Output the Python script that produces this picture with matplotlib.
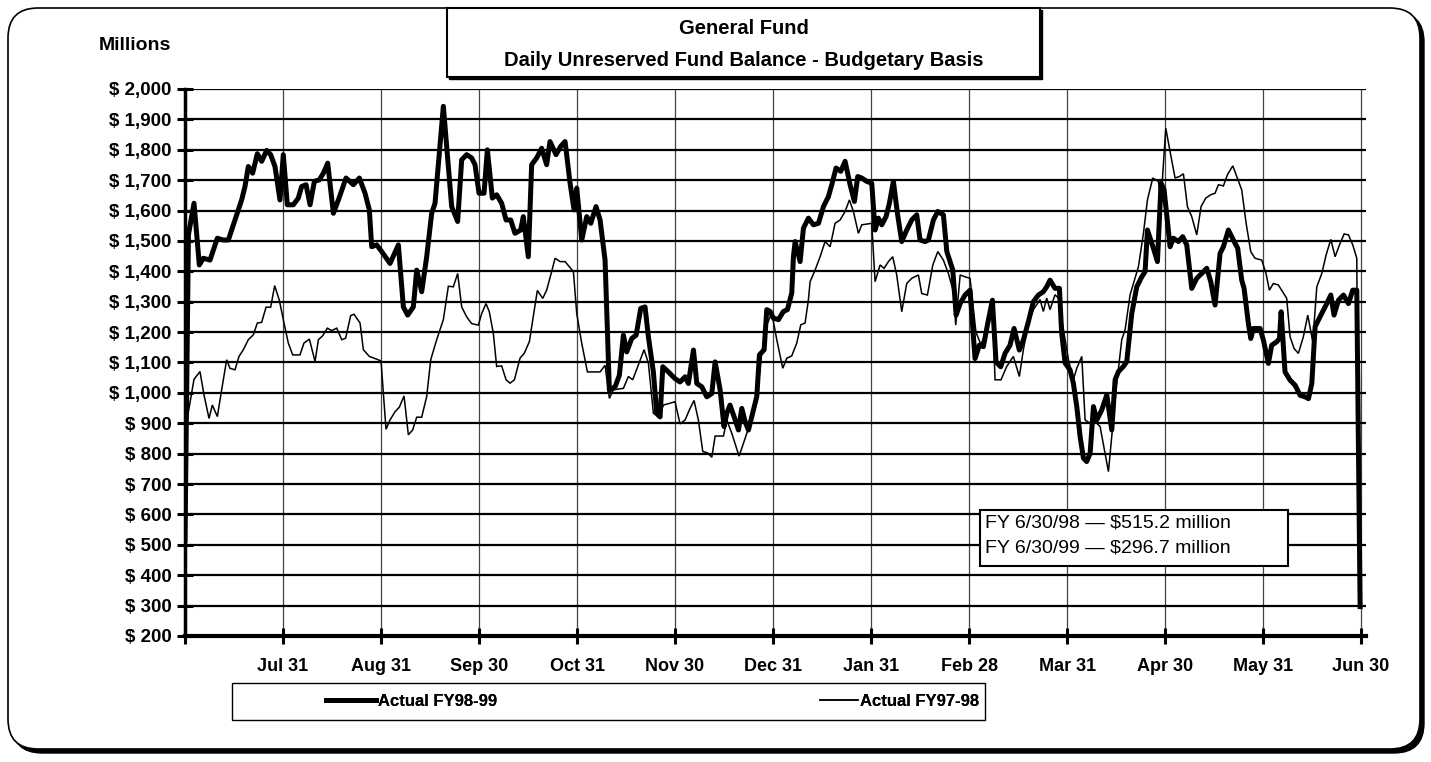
import matplotlib
matplotlib.use('Agg')
import matplotlib.pyplot as plt
from matplotlib.patches import Rectangle, FancyBboxPatch
from matplotlib.lines import Line2D

plt.rcParams['font.family'] = ['Liberation Sans', 'DejaVu Sans']

# t = months since Jul 1 (1 = Jul 31, 2 = Aug 31, ... 12 = Jun 30), balance in $ millions
fy9899_t = [0.0, 0.035, 0.092, 0.146, 0.187, 0.255, 0.33, 0.39, 0.442, 0.51, 0.578, 0.612, 0.646, 0.69,
            0.738, 0.782, 0.833, 0.874, 0.918, 0.969, 1.003, 1.044, 1.105, 1.156, 1.19, 1.235, 1.276,
            1.32, 1.37, 1.412, 1.456, 1.514, 1.565, 1.643, 1.718, 1.779, 1.837, 1.881, 1.905, 1.956,
            2.007, 2.092, 2.177, 2.228, 2.272, 2.33, 2.364, 2.415, 2.466, 2.517, 2.551, 2.636, 2.721,
            2.782, 2.823, 2.874, 2.925, 2.959, 3.0, 3.051, 3.085, 3.136, 3.18, 3.231, 3.276, 3.323,
            3.367, 3.425, 3.452, 3.503, 3.537, 3.588, 3.639, 3.69, 3.724, 3.786, 3.833, 3.878, 3.929,
            3.97, 3.997, 4.048, 4.099, 4.14, 4.194, 4.235, 4.286, 4.33, 4.388, 4.432, 4.473, 4.507,
            4.558, 4.603, 4.65, 4.694, 4.728, 4.779, 4.813, 4.847, 4.875, 4.932, 5.0, 5.051, 5.103,
            5.136, 5.188, 5.222, 5.273, 5.324, 5.375, 5.409, 5.46, 5.5, 5.528, 5.561, 5.602, 5.647,
            5.681, 5.715, 5.749, 5.783, 5.834, 5.861, 5.909, 5.936, 5.97, 6.004, 6.055, 6.106, 6.147,
            6.191, 6.208, 6.225, 6.276, 6.31, 6.361, 6.412, 6.463, 6.514, 6.565, 6.599, 6.643, 6.691,
            6.735, 6.786, 6.83, 6.864, 6.905, 6.956, 7.007, 7.041, 7.075, 7.109, 7.153, 7.187, 7.228,
            7.269, 7.313, 7.364, 7.415, 7.466, 7.5, 7.551, 7.585, 7.636, 7.681, 7.738, 7.773, 7.834,
            7.868, 7.909, 7.959, 8.01, 8.061, 8.105, 8.146, 8.19, 8.238, 8.275, 8.323, 8.367, 8.418,
            8.459, 8.513, 8.554, 8.605, 8.656, 8.707, 8.758, 8.792, 8.826, 8.877, 8.922, 8.945, 8.98,
            9.03, 9.064, 9.099, 9.133, 9.167, 9.2, 9.235, 9.269, 9.303, 9.354, 9.405, 9.456, 9.49,
            9.524, 9.575, 9.609, 9.66, 9.711, 9.762, 9.796, 9.82, 9.881, 9.922, 9.959, 9.99, 10.051,
            10.085, 10.136, 10.18, 10.221, 10.272, 10.323, 10.374, 10.425, 10.466, 10.51, 10.561,
            10.595, 10.646, 10.697, 10.741, 10.782, 10.806, 10.85, 10.874, 10.901, 10.969, 11.003,
            11.054, 11.088, 11.139, 11.167, 11.184, 11.224, 11.275, 11.327, 11.378, 11.429, 11.463,
            11.497, 11.531, 11.582, 11.65, 11.691, 11.724, 11.769, 11.82, 11.871, 11.915, 11.956, 11.99]
fy9899_bal = [515.2, 1520, 1624, 1421, 1443, 1437, 1509, 1503, 1503, 1569, 1635, 1679, 1745, 1723,
              1787, 1762, 1798, 1784, 1745, 1635, 1784, 1619, 1619, 1641, 1679, 1685, 1619,
              1696, 1701, 1723, 1756, 1591, 1635, 1707, 1685, 1707, 1657, 1602, 1481, 1487,
              1465, 1426, 1487, 1283, 1256, 1283, 1404, 1333, 1448, 1591, 1624, 1943, 1613,
              1564, 1767, 1784, 1773, 1751, 1657, 1657, 1800, 1641, 1652, 1624, 1569, 1569,
              1525, 1536, 1580, 1448, 1751, 1773, 1805, 1751, 1827, 1784, 1811, 1827, 1690,
              1602, 1674, 1503, 1580, 1558, 1613, 1569, 1437, 1009, 1020, 1058, 1190, 1135,
              1179, 1190, 1278, 1283, 1185, 1069, 932, 921, 1086, 1069, 1047, 1036, 1053,
              1031, 1141, 1031, 1020, 987, 998, 1102, 1010, 889, 933, 960, 922, 878,
              949, 905, 878, 922, 988, 1125, 1142, 1274, 1268, 1246, 1241, 1268, 1274,
              1329, 1448, 1498, 1432, 1542, 1575, 1553, 1558, 1613, 1646, 1685, 1740, 1729,
              1762, 1685, 1630, 1712, 1707, 1696, 1690, 1536, 1575, 1553, 1580, 1624, 1696,
              1591, 1498, 1536, 1569, 1586, 1503, 1498, 1503, 1569, 1597, 1586, 1465, 1404,
              1256, 1294, 1322, 1338, 1113, 1157, 1152, 1228, 1305, 1102, 1086, 1130, 1157,
              1212, 1141, 1174, 1234, 1300, 1322, 1333, 1349, 1371, 1344, 1344, 1196, 1098,
              1076, 1032, 955, 856, 785, 774, 801, 955, 911, 944, 993, 878, 1043,
              1070, 1087, 1103, 1261, 1349, 1382, 1399, 1536, 1476, 1432, 1690, 1668, 1481,
              1509, 1498, 1514, 1487, 1344, 1377, 1393, 1410, 1366, 1289, 1459,
              1481, 1536, 1503, 1476, 1371, 1344, 1228, 1179, 1212, 1212, 1174,
              1097, 1157, 1168, 1179, 1267, 1069, 1042, 1025, 992, 987, 981,
              1031, 1218, 1251, 1294, 1322, 1256, 1305, 1322, 1294, 1338, 1338, 296.7]

fy9798_t = [0.02, 0.092, 0.153, 0.194, 0.245, 0.279, 0.33, 0.374, 0.425, 0.459, 0.51, 0.551, 0.595,
            0.646, 0.697, 0.738, 0.782, 0.827, 0.874, 0.915, 0.963, 1.01, 1.054, 1.099, 1.173, 1.214,
            1.269, 1.327, 1.361, 1.405, 1.452, 1.497, 1.548, 1.599, 1.639, 1.69, 1.724, 1.786, 1.82,
            1.881, 1.956, 2.0, 2.051, 2.092, 2.143, 2.187, 2.235, 2.279, 2.323, 2.364, 2.415, 2.466,
            2.507, 2.568, 2.636, 2.687, 2.738, 2.782, 2.823, 2.874, 2.925, 2.993, 3.027, 3.071, 3.105,
            3.146, 3.18, 3.231, 3.276, 3.316, 3.361, 3.418, 3.463, 3.514, 3.554, 3.595, 3.65, 3.69,
            3.741, 3.776, 3.827, 3.878, 3.963, 3.997, 4.048, 4.106, 4.235, 4.286, 4.33, 4.371, 4.473,
            4.524, 4.568, 4.626, 4.684, 4.728, 4.779, 4.84, 4.881, 4.949, 5.0, 5.051, 5.103, 5.153,
            5.194, 5.238, 5.283, 5.33, 5.375, 5.409, 5.494, 5.528, 5.579, 5.653, 5.698, 5.766, 5.834,
            5.885, 5.936, 5.987, 6.038, 6.099, 6.14, 6.191, 6.242, 6.283, 6.327, 6.361, 6.378, 6.429,
            6.48, 6.531, 6.582, 6.633, 6.684, 6.735, 6.779, 6.82, 6.871, 6.905, 7.007, 7.041, 7.092,
            7.133, 7.177, 7.221, 7.262, 7.313, 7.364, 7.415, 7.483, 7.517, 7.575, 7.63, 7.681, 7.738,
            7.789, 7.84, 7.864, 7.909, 7.959, 8.01, 8.07, 8.12, 8.18, 8.24, 8.265, 8.326, 8.384, 8.452,
            8.513, 8.554, 8.605, 8.656, 8.724, 8.758, 8.792, 8.826, 8.877, 8.911, 8.963, 9.014, 9.064,
            9.099, 9.15, 9.184, 9.235, 9.286, 9.337, 9.422, 9.456, 9.507, 9.558, 9.592, 9.643, 9.728,
            9.779, 9.82, 9.874, 9.932, 9.959, 10.007, 10.051, 10.102, 10.146, 10.187, 10.228, 10.272,
            10.323, 10.367, 10.415, 10.466, 10.51, 10.544, 10.595, 10.636, 10.691, 10.731, 10.782,
            10.827, 10.874, 10.918, 10.986, 11.03, 11.064, 11.105, 11.156, 11.241, 11.275, 11.316,
            11.36, 11.411, 11.456, 11.507, 11.548, 11.599, 11.643, 11.691, 11.735, 11.779, 11.827,
            11.871, 11.915, 11.956, 11.975]
fy9798_bal = [910, 1045, 1070, 993, 916, 960, 922, 1010, 1109, 1081, 1076, 1120, 1142,
              1175, 1191, 1230, 1232, 1282, 1282, 1353, 1304, 1230, 1164, 1125, 1125, 1164,
              1177, 1103, 1175, 1188, 1213, 1205, 1213, 1175, 1180, 1254, 1259, 1230, 1142,
              1120, 1111, 1105, 880, 911, 938, 953, 990, 862, 878, 920, 920, 988,
              1109, 1175, 1241, 1351, 1349, 1393, 1283, 1250, 1228, 1223, 1261, 1294, 1267,
              1196, 1087, 1089, 1043, 1032, 1043, 1114, 1131, 1169, 1252, 1337, 1311, 1338,
              1399, 1443, 1432, 1432, 1399, 1261, 1163, 1069, 1069, 1091, 982, 1010, 1015,
              1054, 1043, 1092, 1142, 1098, 933, 922, 960, 966, 971, 898, 911, 949,
              975, 911, 807, 803, 788, 858, 858, 911, 867, 792, 834, 900, 982,
              1131, 1224, 1263, 1175, 1081, 1114, 1122, 1164, 1224, 1230, 1307, 1366, 1404,
              1448, 1498, 1481, 1558, 1569, 1597, 1635, 1597, 1525, 1553, 1558, 1366, 1421,
              1410, 1432, 1448, 1388, 1267, 1360, 1377, 1388, 1327, 1322, 1421, 1465, 1437,
              1393, 1333, 1223, 1388, 1382, 1377, 1200, 1160, 1200, 1280, 1043, 1043, 1087, 1120,
              1054, 1142, 1230, 1274, 1307, 1268, 1312, 1274, 1323, 1312, 1208, 1109, 1043,
              1081, 1120, 911, 900, 906, 889, 741, 856, 1032, 1175, 1208, 1323, 1415,
              1525, 1635, 1707, 1696, 1635, 1871, 1794, 1707, 1712, 1721, 1613, 1580,
              1520, 1613, 1641, 1652, 1657, 1685, 1681, 1718, 1747, 1712, 1668,
              1558, 1465, 1443, 1437, 1393, 1338, 1360, 1355, 1311, 1185, 1146,
              1130, 1185, 1256, 1168, 1349, 1393, 1454, 1505, 1448, 1487, 1523,
              1520, 1487, 1443, 515.2]

month_labels = ['', 'Jul 31', 'Aug 31', 'Sep 30', 'Oct 31', 'Nov 30', 'Dec 31',
                'Jan 31', 'Feb 28', 'Mar 31', 'Apr 30', 'May 31', 'Jun 30']
y_ticks = list(range(200, 2001, 100))
title_lines = ['General Fund', 'Daily Unreserved Fund Balance - Budgetary Basis']
series_labels = ['Actual FY98-99', 'Actual FY97-98']
note_lines = ['FY 6/30/98 \u2014 $515.2 million', 'FY 6/30/99 \u2014 $296.7 million']

W, H = 1431, 762
fig = plt.figure(figsize=(W / 100, H / 100), dpi=100)

# background layer in pixel coords (rounded frame with shadow)
bg = fig.add_axes([0, 0, 1, 1], zorder=0)
bg.set_xlim(0, W)
bg.set_ylim(H, 0)
bg.axis('off')
bg.add_patch(FancyBboxPatch((12, 12), 1412, 741, boxstyle='round,pad=0,rounding_size=30',
                            fc='black', ec='black', lw=1))
bg.add_patch(FancyBboxPatch((8, 8), 1412, 741, boxstyle='round,pad=0,rounding_size=30',
                            fc='white', ec='black', lw=1.2))

# main chart
ax = fig.add_axes([185 / W, 1 - 636 / H, (1366 - 185) / W, (636 - 89) / H], zorder=1)
ax.plot(fy9798_t, fy9798_bal, color='black', lw=1.1, zorder=3, solid_joinstyle='miter')
ax.plot(fy9899_t, fy9899_bal, color='black', lw=3.6, zorder=4)
ax.set_xlim(0, 12.05)
ax.set_ylim(200, 2000)
ax.set_xticks(range(13))
ax.set_xticklabels(month_labels, fontsize=13, fontweight='bold')
ax.set_yticks(y_ticks)
ax.set_yticklabels(['$ {:,}'.format(v) for v in y_ticks], fontsize=13.5, fontweight='bold')
ax.grid(axis='y', color='black', lw=1.6, zorder=1)
ax.grid(axis='x', color='#444444', lw=0.9, zorder=1)
ax.set_axisbelow(True)
for s in ['top', 'right']:
    ax.spines[s].set_visible(False)
ax.spines['left'].set_linewidth(2.5)
ax.spines['bottom'].set_linewidth(3)
ax.tick_params(axis='both', direction='inout', length=11, width=2.2, color='black')
ax.tick_params(axis='y', pad=4)
ax.tick_params(axis='x', pad=10)

# foreground layer in pixel coords (title box, legend, note)
fg = fig.add_axes([0, 0, 1, 1], zorder=2)
fg.set_xlim(0, W)
fg.set_ylim(H, 0)
fg.axis('off')
fg.patch.set_alpha(0)

fg.add_patch(Rectangle((449, 10), 593, 69, fc='black', ec='black', lw=1))
fg.add_patch(Rectangle((447, 8), 593, 69, fc='white', ec='black', lw=1.5))
fg.text(744, 28, title_lines[0], ha='center', va='center', fontsize=14.5, fontweight='bold')
fg.text(744, 60, title_lines[1], ha='center', va='center', fontsize=14.5, fontweight='bold')
fig.text(135 / W, 1 - 45 / H, 'Millions', ha='center', va='center', fontsize=14, fontweight='bold')

fg.add_patch(Rectangle((232, 683), 753, 37, fc='white', ec='black', lw=1))
h1 = Line2D([], [], color='black', lw=3.6)
h2 = Line2D([], [], color='black', lw=1.1)
leg1 = fig.legend([h1], [series_labels[0]], loc='center left', bbox_to_anchor=(326 / W, 1 - 701 / H),
                  frameon=False, handlelength=3.0, handletextpad=0.1, borderpad=0, borderaxespad=0,
                  prop={'size': 12, 'weight': 'bold'})
leg2 = fig.legend([h2], [series_labels[1]], loc='center left', bbox_to_anchor=(820 / W, 1 - 701 / H),
                  frameon=False, handlelength=2.3, handletextpad=0.1, borderpad=0, borderaxespad=0,
                  prop={'size': 12, 'weight': 'bold'})
fig.add_artist(leg1)
fig.add_artist(leg2)
leg1.set_zorder(5)
leg2.set_zorder(5)

fg.add_patch(Rectangle((980, 510), 308, 56, fc='white', ec='black', lw=1.5))
fg.text(985, 523, note_lines[0], ha='left', va='center', fontsize=14)
fg.text(985, 548, note_lines[1], ha='left', va='center', fontsize=14)

fig.savefig('out.png', dpi=100)
